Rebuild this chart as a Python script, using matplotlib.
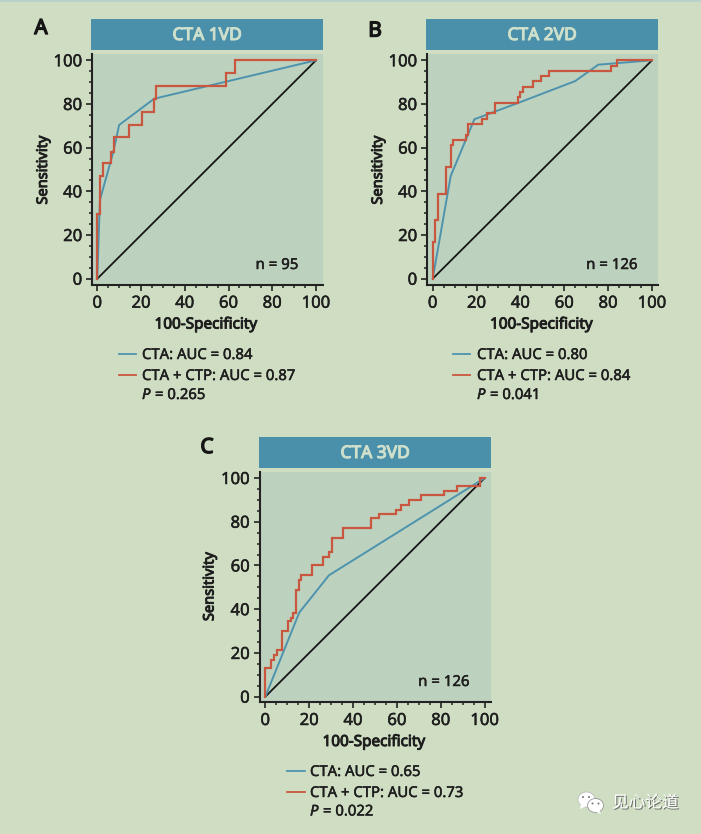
import matplotlib
matplotlib.use("Agg")
import matplotlib.pyplot as plt
from matplotlib.lines import Line2D
from matplotlib.patches import Rectangle, Ellipse, Polygon
from matplotlib.ticker import MultipleLocator
import matplotlib.patheffects as pe

W, H = 701, 834
BG = "#CFDEC3"; PLOT = "#BDD2BE"; HEAD = "#4A90AB"; HEADTXT = "#CFE0CC"
BLUE = "#4D93AE"; RED = "#C9573F"; INK = "#1E1E1E"
plt.rcParams["font.family"] = ["Noto Sans", "Noto Sans CJK SC", "DejaVu Sans"]

titles = ["CTA 1VD", "CTA 2VD", "CTA 3VD"]
letters = ["A", "B", "C"]
counts = ["n = 95", "n = 126", "n = 126"]
auc_cta = ["CTA: AUC = 0.84", "CTA: AUC = 0.80", "CTA: AUC = 0.65"]
auc_both = ["CTA + CTP: AUC = 0.87", "CTA + CTP: AUC = 0.84", "CTA + CTP: AUC = 0.73"]
p_values = ["= 0.265", "= 0.041", "= 0.022"]
ticks = [0, 20, 40, 60, 80, 100]

a_blue_x = [0, 1.2, 7.3, 10, 26, 100]
a_blue_y = [0, 36, 58, 70.4, 82.4, 100]
a_red_x = [0, 0, 1.2, 1.2, 2.7, 2.7, 6.3, 6.3, 7.5, 7.5, 14.3, 14.3, 20.5, 20.5, 26, 26, 27, 27, 59, 59, 62.8, 62.8, 100]
a_red_y = [0, 29.4, 29.4, 47, 47, 53, 53, 58, 58, 64.7, 64.7, 70.6, 70.6, 76.5, 76.5, 82.4, 82.4, 88.2, 88.2, 94.1, 94.1, 100, 100]

b_blue_x = [0, 8.2, 19, 39, 65, 75.5, 100]
b_blue_y = [0, 47, 73, 80.5, 90.5, 98, 100]
b_red_x = [0, 0, 1.2, 1.2, 2.2, 2.2, 6, 6, 8.2, 8.2, 9.2, 9.2, 15.3, 15.3, 16.2, 16.2, 22.7, 22.7, 24.8, 24.8, 28.5, 28.5, 39, 39, 39.8, 39.8, 41, 41, 45.7, 45.7, 49.5, 49.5, 53, 53, 81.5, 81.5, 84, 84, 100]
b_red_y = [0, 17, 17, 27, 27, 39, 39, 51, 51, 61, 61, 63.5, 63.5, 66, 66, 71, 71, 73, 73, 76, 76, 80.5, 80.5, 83, 83, 85.5, 85.5, 88, 88, 90.5, 90.5, 93, 93, 95, 95, 97.5, 97.5, 100, 100]

c_blue_x = [0, 15.5, 29, 100]
c_blue_y = [0, 38.5, 55.5, 100]
c_red_x = [0, 0, 2.5, 2.5, 4, 4, 5.2, 5.2, 7.5, 7.5, 10.3, 10.3, 11.5, 11.5, 12.7, 12.7, 13.8, 13.8, 15.2, 15.2, 16.3, 16.3, 21.5, 21.5, 26.5, 26.5, 29, 29, 30.5, 30.5, 35.5, 35.5, 48, 48, 52, 52, 59.7, 59.7, 62, 62, 65.5, 65.5, 71, 71, 81.5, 81.5, 87.5, 87.5, 98, 98, 100]
c_red_y = [0, 13, 13, 17, 17, 19, 19, 21.5, 21.5, 30, 30, 34.5, 34.5, 36, 36, 38.5, 38.5, 49, 49, 53.5, 53.5, 55.5, 55.5, 60, 60, 64, 64, 66, 66, 72.5, 72.5, 77, 77, 81.5, 81.5, 83.5, 83.5, 85.5, 85.5, 87.5, 87.5, 90, 90, 92, 92, 94, 94, 96.3, 96.3, 100, 100]

blue_series = [(a_blue_x, a_blue_y), (b_blue_x, b_blue_y), (c_blue_x, c_blue_y)]
red_series = [(a_red_x, a_red_y), (b_red_x, b_red_y), (c_red_x, c_red_y)]

layouts = [
    dict(l=92, r=323, t=54, b=285, x0=97.3, x100=316, y0=278.7, y100=60.3, ht=19, hb=50, hl=91),
    dict(l=427, r=658, t=54, b=285, x0=432.7, x100=652, y0=278.7, y100=60.3, ht=19, hb=50, hl=426),
    dict(l=259.5, r=491, t=472, b=702.3, x0=265.3, x100=484.7, y0=696.7, y100=478, ht=437, hb=468, hl=259),
]
letter_xy = [(41, 28.5), (375, 31), (207, 447.5)]
ylab_x = [43.5, 378.5, 210]
ylab_y = [170, 170, 586.5]
xlab_y = [325, 325, 742.5]
xlab_x = [206, 541.5, 374]
n_xy = [(277, 265.5), (612, 265.5), (444, 682.5)]
leg_x = [(119, 136, 142), (453, 470, 477), (287, 305, 310)]
leg_y = [(355.5, 376.5, 395.5), (355.5, 376.5, 395.5), (772.5, 793.5, 812)]

fig = plt.figure(figsize=(W / 100, H / 100), dpi=100, facecolor=BG)
fx = lambda x: x / W
fy = lambda y: 1 - y / H


def heavy(color, width):
    return [pe.withStroke(linewidth=width, foreground=color)]


fig.add_artist(Line2D([0, 1], [1 - 0.5 / H] * 2, color="#B5CFCB", lw=1.2))

for i, g in enumerate(layouts):
    ax = fig.add_axes([fx(g["l"]), fy(g["b"]), (g["r"] - g["l"]) / W, (g["b"] - g["t"]) / H], facecolor=PLOT)
    sx = 100 / (g["x100"] - g["x0"]); sy = 100 / (g["y0"] - g["y100"])
    ax.set_xlim((g["l"] - g["x0"]) * sx, (g["r"] - g["x0"]) * sx)
    ax.set_ylim((g["y0"] - g["b"]) * sy, (g["y0"] - g["t"]) * sy)
    ax.plot([0, 100], [0, 100], color="#161616", lw=1.3, solid_capstyle="butt")
    ax.plot(*blue_series[i], color=BLUE, lw=1.4, solid_joinstyle="miter")
    ax.plot(*red_series[i], color=RED, lw=1.6, solid_joinstyle="miter")
    for s in ("top", "right"):
        ax.spines[s].set_visible(False)
    for s in ("left", "bottom"):
        ax.spines[s].set_linewidth(1.5); ax.spines[s].set_color("#222222")
    ax.xaxis.set_minor_locator(MultipleLocator(5)); ax.yaxis.set_minor_locator(MultipleLocator(5))
    ax.set_xticks(ticks); ax.set_yticks(ticks)
    ax.tick_params(axis="x", which="major", pad=3.7)
    ax.tick_params(axis="y", which="major", pad=3)
    ax.tick_params(which="major", length=4, width=1.2, color="#222222", labelsize=12, labelcolor=INK)
    ax.tick_params(which="minor", length=2, width=1.1, color="#222222")
    for lab in ax.get_xticklabels() + ax.get_yticklabels():
        lab.set_path_effects(heavy(INK, 0.35))

    fig.add_artist(Rectangle((fx(g["hl"]), fy(g["hb"])), (g["r"] - g["hl"]) / W, (g["hb"] - g["ht"]) / H,
                             transform=fig.transFigure, facecolor=HEAD, edgecolor="none"))
    tx = (g["hl"] + g["r"]) / 2
    fig.text(fx(tx), fy((g["ht"] + g["hb"]) / 2 + 0.5), titles[i], color=HEADTXT, fontsize=12.5,
             ha="center", va="center", path_effects=heavy(HEADTXT, 0.8))
    fig.text(fx(letter_xy[i][0]), fy(letter_xy[i][1]), letters[i], color="#151515", fontsize=15,
             ha="center", va="center", path_effects=heavy("#151515", 1.0))
    fig.text(fx(ylab_x[i]), fy(ylab_y[i]), "Sensitivity", rotation=90, color=INK, fontsize=10.5,
             ha="center", va="center", path_effects=heavy(INK, 0.7))
    fig.text(fx(xlab_x[i]), fy(xlab_y[i]), "100-Specificity", color=INK, fontsize=11,
             ha="center", va="center", path_effects=heavy(INK, 0.7))
    fig.text(fx(n_xy[i][0]), fy(n_xy[i][1]), counts[i], color=INK, fontsize=10.8,
             ha="center", va="center", path_effects=heavy(INK, 0.35))

    lx0, lx1, tx0 = leg_x[i]
    y1, y2, y3 = leg_y[i]
    fig.add_artist(Line2D([fx(lx0), fx(lx1)], [fy(y1 - 1.5)] * 2, color=BLUE, lw=1.3))
    fig.add_artist(Line2D([fx(lx0), fx(lx1)], [fy(y2 - 1.5)] * 2, color=RED, lw=1.3))
    for yy, s in ((y1, auc_cta[i]), (y2, auc_both[i])):
        fig.text(fx(tx0), fy(yy), s, color=INK, fontsize=10.7, ha="left", va="center",
                 path_effects=heavy(INK, 0.35))
    fig.text(fx(tx0), fy(y3), "P", color=INK, fontsize=10.7, style="italic", ha="left", va="center",
             path_effects=heavy(INK, 0.35))
    fig.text(fx(tx0 + 13), fy(y3), p_values[i], color=INK, fontsize=10.7, ha="left", va="center",
             path_effects=heavy(INK, 0.35))

# watermark
overlay = fig.add_axes([0, 0, 1, 1], facecolor="none")
overlay.set_xlim(0, W); overlay.set_ylim(H, 0); overlay.axis("off")
overlay.add_patch(Ellipse((586.5, 799.5), 17, 15, facecolor="white", edgecolor="#aaaaaa", lw=0.4))
overlay.add_patch(Polygon([(581, 804), (580, 809), (586, 806)], facecolor="white", edgecolor="none"))
overlay.add_patch(Ellipse((595.5, 805.5), 16, 14, facecolor="white", edgecolor="#888888", lw=0.5))
overlay.add_patch(Polygon([(599, 810), (601, 814), (595, 811.5)], facecolor="white", edgecolor="none"))
for ex, ey, col in ((583, 797, "#777777"), (589, 797, "#777777"), (592.5, 803.5, "#777777"), (598.5, 803.5, "#777777")):
    overlay.add_patch(Ellipse((ex, ey), 2, 2, facecolor=col, edgecolor="none"))
fig.text(fx(612), fy(803), "见心论道", color="white", fontsize=12, ha="left", va="center",
         family=["Noto Sans CJK SC", "DejaVu Sans"],
         path_effects=[pe.withSimplePatchShadow(offset=(0.8, -0.8), shadow_rgbFace="#555555", alpha=0.8)])

fig.savefig("out.png", dpi=100, facecolor=BG)
